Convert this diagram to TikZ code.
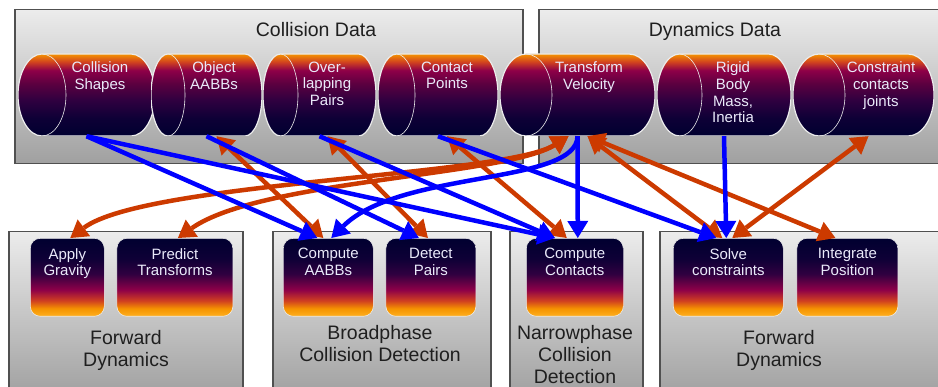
\documentclass[tikz,border=0pt]{standalone}
\usepackage{fontspec}
\setmainfont{Liberation Sans}
\usetikzlibrary{positioning}
\usetikzlibrary{arrows.meta}

\definecolor{flowblue}{RGB}{0,0,255}
\definecolor{flowred}{RGB}{204,58,0}
\definecolor{panelline}{RGB}{80,80,80}
\definecolor{paneltop}{RGB}{236,236,236}
\definecolor{panelbottom}{RGB}{160,160,160}
\definecolor{deepnavy}{RGB}{0,0,48}
\definecolor{darknavy}{RGB}{14,0,54}
\definecolor{plum}{RGB}{48,0,64}
\definecolor{wine}{RGB}{92,0,64}
\definecolor{crimson}{RGB}{142,0,72}
\definecolor{ember}{RGB}{208,64,32}
\definecolor{amber}{RGB}{245,147,0}
\definecolor{goldamber}{RGB}{255,176,32}
\definecolor{labelwhite}{RGB}{234,234,250}

% data stores: orange on top, navy below
\pgfdeclareverticalshading{storefade}{100bp}{%
  color(0bp)=(deepnavy); color(25bp)=(deepnavy); color(36bp)=(darknavy);
  color(47bp)=(plum); color(57bp)=(wine); color(65bp)=(crimson);
  color(70bp)=(ember); color(75bp)=(amber); color(100bp)=(amber)}
% pipeline stages: navy on top, orange below
\pgfdeclareverticalshading{stagefade}{100bp}{%
  color(0bp)=(goldamber); color(25bp)=(goldamber); color(30bp)=(amber);
  color(35bp)=(ember); color(42bp)=(crimson); color(52bp)=(plum);
  color(62bp)=(darknavy); color(75bp)=(deepnavy); color(100bp)=(deepnavy)}

\begin{document}
\begin{tikzpicture}[x=1pt, y=-1pt,
    endrad/.store in=\endrad, endrad=24pt,
    panel/.style={draw=panelline, line width=1.5pt, top color=paneltop, bottom color=panelbottom, anchor=north west, inner sep=0pt},
    % a lying cylinder, open end facing left
    store/.style={rectangle, minimum height=82pt, inner sep=0pt,
      path picture={
        \shade[shading=storefade, draw=white!85!gray, line width=1.2pt]
          ([xshift=\endrad]path picture bounding box.north west) -- ([xshift=-\endrad]path picture bounding box.north east)
          arc[start angle=90, end angle=-90, x radius=\endrad, y radius=41pt]
          -- ([xshift=\endrad]path picture bounding box.south west)
          arc[start angle=270, end angle=90, x radius=\endrad, y radius=41pt] -- cycle;
        \draw[white!85!gray, line width=0.6pt] ([xshift=\endrad]path picture bounding box.north west)
          arc[start angle=90, end angle=-90, x radius=\endrad, y radius=41pt];
      }},
    stage/.style={rectangle, rounded corners=10pt, draw=white!85!gray, line width=0.6pt, shade, shading=stagefade, minimum height=78pt, inner sep=0pt, anchor=north west},
    storetext/.style={anchor=north, align=center, inner sep=0pt, text=labelwhite, font=\fontsize{15}{16.8}\selectfont},
    stagetext/.style={anchor=north, align=center, inner sep=0pt, text=labelwhite, font=\fontsize{15}{16.8}\selectfont},
    paneltext/.style={anchor=north, align=center, inner sep=0pt, text=black!88, font=\fontsize{19.5}{22}\selectfont},
    readflow/.style={draw=flowblue, line width=4.5pt, -{Triangle[length=17pt,width=21pt,line width=0pt]}},
    writeflow/.style={draw=flowred, line width=4.5pt, {Triangle[length=17pt,width=21pt,line width=0pt]}-{Triangle[length=17pt,width=21pt,line width=0pt]}}]

    \useasboundingbox (0,0) rectangle (938,387);

    % data panels
    \node(colldata)[panel, minimum width=508pt, minimum height=154pt] at (14,9) {};
    \node(dyndata)[panel, minimum width=410pt, minimum height=154pt] at (538,9) {};
    \node(colltitle)[paneltext] at (316,22.5) {Collision Data};
    \node(dyntitle)[paneltext] at (715,22.5) {Dynamics Data};

    % stage panels
    \node(fwdleft)[panel, minimum width=234pt, minimum height=165pt] at (8,231) {};
    \node(broad)[panel, minimum width=218pt, minimum height=165pt] at (272,231) {};
    \node(narrow)[panel, minimum width=133pt, minimum height=165pt] at (509,231) {};
    \node(fwdright)[panel, minimum width=290pt, minimum height=165pt] at (659,231) {};
    \node(fwdleft-t)[paneltext] at (126,330.5) {Forward\\Dynamics};
    \node(broad-t)[paneltext] at (380,325.5) {Broadphase\\Collision Detection};
    \node(narrow-t)[paneltext] at (575,325.5) {Narrowphase\\Collision\\Detection};
    \node(fwdright-t)[paneltext] at (779,330.5) {Forward\\Dynamics};

    % stores
    \node(cs)[store, minimum width=137pt, endrad=24pt] at (86.5,95) {};
    \node(oa)[store, minimum width=111pt, endrad=17pt] at (206.5,95) {};
    \node(op)[store, minimum width=113pt, endrad=17.5pt] at (319.5,95) {};
    \node(cp)[store, minimum width=120pt, endrad=18.5pt] at (438,95) {};
    \node(tv)[store, minimum width=155pt, endrad=26pt] at (577.5,95) {};
    \node(rb)[store, minimum width=134pt, endrad=22.5pt] at (724,95) {};
    \node(cj)[store, minimum width=141pt, endrad=26pt] at (863.5,95) {};

    \node(cs-t)[storetext] at (100,61.5) {Collision\\Shapes};
    \node(oa-t)[storetext] at (214,61.5) {Object\\AABBs};
    \node(op-t)[storetext] at (327,61.5) {Over-\\lapping\\Pairs};
    \node(cp-t)[storetext] at (447,61.5) {Contact\\Points};
    \node(tv-t)[storetext] at (589,61.5) {Transform\\Velocity};
    \node(rb-t)[storetext] at (733,61.5) {Rigid\\Body\\Mass,\\Inertia};
    \node(cj-t)[storetext] at (881,61.5) {Constraint\\contacts\\joints};

    % stages
    \node(ag)[stage, minimum width=74pt] at (30,238) {};
    \node(pt)[stage, minimum width=116pt, right=12pt of ag] {};
    \node(ca)[stage, minimum width=90pt] at (283,238) {};
    \node(dp)[stage, minimum width=90pt, right=12pt of ca] {};
    \node(cc)[stage, minimum width=97pt] at (526,238) {};
    \node(sc)[stage, minimum width=110pt] at (673,238) {};
    \node(ip)[stage, minimum width=101pt, right=13pt of sc] {};

    \node(ag-t)[stagetext, below=10pt of ag.north] {Apply\\Gravity};
    \node(pt-t)[stagetext, below=10pt of pt.north] {Predict\\Transforms};
    \node(ca-t)[stagetext, below=10pt of ca.north] {Compute\\AABBs};
    \node(dp-t)[stagetext, below=10pt of dp.north] {Detect\\Pairs};
    \node(cc-t)[stagetext, below=10pt of cc.north] {Compute\\Contacts};
    \node(sc-t)[stagetext, below=10pt of sc.north] {Solve\\constraints};
    \node(ip-t)[stagetext, below=10pt of ip.north] {Integrate\\Position};

    % read and write
    \draw[writeflow] ([xshift=3pt]ag.north) .. controls (145,182) and (505,176) .. ([xshift=-9pt]tv.south);
    \draw[writeflow] ([xshift=3pt]pt.north) .. controls (260,180) and (505,176) .. ([xshift=-9pt]tv.south);
    \draw[writeflow] ([xshift=-5pt]ca.north) -- ([xshift=10pt]oa.south);
    \draw[writeflow] ([xshift=-3pt]dp.north) -- ([xshift=8pt]op.south);
    \draw[writeflow] ([xshift=-8pt]cc.north) -- ([xshift=9pt]cp.south);
    \draw[writeflow] ([xshift=-6pt]sc.north) -- ([xshift=10pt]tv.south);
    \draw[writeflow] ([xshift=-12pt]ip.north) -- ([xshift=10pt]tv.south);
    \draw[writeflow] ([xshift=4pt]sc.north) -- ([xshift=5pt]cj.south);

    \draw[readflow] (cs.south) -- ([xshift=-11pt]ca.north);
    \draw[readflow] (cs.south) -- ([xshift=-20pt]cc.north);
    \draw[readflow] (oa.south) -- ([xshift=-12pt]dp.north);
    \draw[readflow] (op.south) -- ([xshift=-20pt]cc.north);
    \draw[readflow] (cp.south) -- ([xshift=-12pt]sc.north);
    \draw[readflow] (tv.south) -- ([xshift=3pt]cc.north);
    \draw[readflow] (tv.south) .. controls (577,185) and (400,170) .. ([xshift=3pt]ca.north);
    \draw[readflow] (rb.south) -- ([xshift=-2pt]sc.north);

\end{tikzpicture}
\end{document}
